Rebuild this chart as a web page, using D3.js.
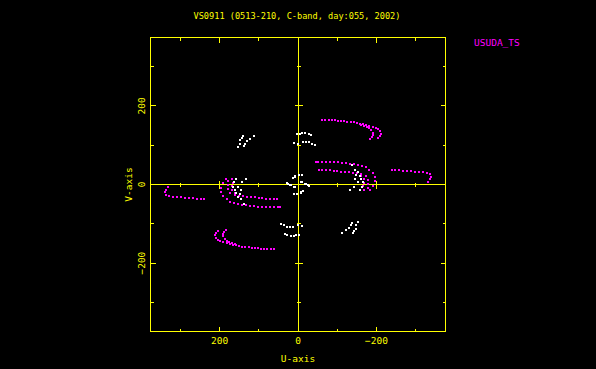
<!DOCTYPE html>
<html lang="en">
<head>
    <meta charset="UTF-8">
    <title>UV coverage VS0911</title>
    <script src="https://d3js.org/d3.v7.min.js"></script>
    <style>
        body { margin: 0; background: #000; }
        text { font-family: "DejaVu Sans Mono", monospace; fill: #ffff00; }
    </style>
</head>
<body>
    <script>
        // Chart texts
        const title = "VS0911 (0513-210, C-band, day:055, 2002)";
        const stationLabel = "USUDA_TS";
        const xLabel = "U-axis";
        const yLabel = "V-axis";

        // Tick values (kilo-wavelength units)
        const majorTicks = [-200, 0, 200];
        const minorTicks = [-300, -100, 100, 300];

        // UV tracks as [u, v]; each point is also plotted at (-u, -v)
        const magentaOuter = [[-62,165],[-70,164],[-78,164],[-86,163],[-94,163],[-102,162],[-110,162],[-118,161],[-126,160],[-134,159],[-142,158],[-150,156],[-158,155],[-166,153],[-174,151],[-182,149],[-190,146],[-198,143],[-204,140],[-209,135],[-212,129],[-210,123],[-205,118]];
        const magentaInner = [[-160,152],[-168,150],[-176,147],[-182,143],[-187,138],[-191,132],[-192,126],[-189,120],[-184,116]];
        const magentaFar = [[331,-7],[337,-13],[340,-20],[336,-26],[328,-30],[318,-31],[308,-32],[298,-33],[287,-34],[277,-35],[267,-35],[257,-36],[247,-36],[239,-36]];
        const magentaUpper = [[178,8],[179,-2],[179,-12],[173,-22],[160,-27],[150,-29],[140,-30],[130,-31],[120,-32],[110,-33],[100,-34],[91,-35],[81,-36],[71,-37],[61,-37],[53,-38]];
        const magentaLower = [[184,14],[191,4],[196,-9],[196,-20],[190,-30],[181,-36],[173,-44],[163,-48],[152,-50],[142,-51],[132,-53],[122,-54],[112,-55],[101,-56],[91,-57],[81,-57],[71,-58],[61,-58],[51,-58],[46,-58]];
        const magentaMiddle = [[168,15],[165,5],[167,-5],[168,-15],[160,-22]];

        const whiteArcA = [[139,123],[144,118],[147,112],[149,104],[152,95]];
        const whiteArcB = [[113,123],[122,117],[130,111],[135,104],[137,99]];
        const whiteTop = [[3,128],[-6,128],[-10,130],[-18,131],[-27,129],[-33,125]];
        const whiteTopLower = [[10,105],[0,104],[-14,108],[-20,107],[-27,107],[-35,104],[-44,101]];
        const whiteCentre = [[7,22],[-3,24],[-11,23],[12,16],[25,1],[17,-2],[7,-7],[-11,7],[-21,1],[-29,-4],[11,-23],[2,-23],[-8,-18]];
        const whiteRight = [[-137,49],[-146,36],[-154,31],[-158,22],[-148,24],[-146,13],[-152,6],[-161,15],[-165,6],[-163,-6],[-157,-15],[-143,-7],[-133,-14]];

        const magentaTracks = [magentaOuter, magentaInner, magentaFar, magentaUpper, magentaLower, magentaMiddle];
        const whiteTracks = [whiteArcA, whiteArcB, whiteTop, whiteTopLower, whiteCentre, whiteRight];

        const yellow = "#ffff00";
        const magenta = "#ff00ff";

        const svg = d3.select("body").append("svg")
            .attr("width", 596)
            .attr("height", 369)
            .style("background", "#000");

        // U runs right-to-left as in the original plot
        const x = d3.scaleLinear().domain([376, -376]).range([150.5, 445.5]);
        const y = d3.scaleLinear().domain([374, -374]).range([37.5, 331.5]);
        const [x0, x1] = x.range();
        const [y0, y1] = y.range();

        const g = svg.append("g").attr("shape-rendering", "crispEdges");

        // snap to pixel centres
        const xp = d => Math.floor(x(d)) + 0.5;
        const yp = d => Math.floor(y(d)) + 0.5;

        // Frame and zero lines
        g.append("rect")
            .attr("x", x0).attr("y", y0)
            .attr("width", x1 - x0).attr("height", y1 - y0)
            .attr("fill", "none").attr("stroke", yellow);
        g.append("line")
            .attr("x1", x0).attr("x2", x1)
            .attr("y1", yp(0)).attr("y2", yp(0))
            .attr("stroke", yellow);
        g.append("line")
            .attr("x1", xp(0)).attr("x2", xp(0))
            .attr("y1", y0).attr("y2", y1)
            .attr("stroke", yellow);

        // Ticks on frame and across the zero lines
        const ticks = majorTicks.map(d => ({ v: d, len: 5 }))
            .concat(minorTicks.map(d => ({ v: d, len: 3 })));
        ticks.forEach(t => {
            const segs = [
                [xp(t.v), y1, xp(t.v), y1 - t.len],
                [xp(t.v), y0, xp(t.v), y0 + t.len],
                [xp(t.v), yp(0) - t.len + 1, xp(t.v), yp(0) + t.len - 1],
                [x0, yp(t.v), x0 + t.len, yp(t.v)],
                [x1, yp(t.v), x1 - t.len, yp(t.v)],
                [xp(0) - t.len + 1, yp(t.v), xp(0) + t.len - 1, yp(t.v)]
            ];
            segs.forEach(s => g.append("line")
                .attr("x1", s[0]).attr("y1", s[1]).attr("x2", s[2]).attr("y2", s[3])
                .attr("stroke", yellow));
        });

        // Data points with their conjugates
        function drawTracks(tracks, colour) {
            const pts = [];
            tracks.forEach(tr => tr.forEach(([u, v]) => { pts.push([u, v]); pts.push([-u, -v]); }));
            g.append("g").selectAll("rect")
                .data(pts)
                .enter()
                .append("rect")
                .attr("x", d => Math.round(x(d[0])) - 1)
                .attr("y", d => Math.round(y(d[1])) - 1)
                .attr("width", 2)
                .attr("height", 2)
                .attr("fill", colour);
        }
        drawTracks(magentaTracks, magenta);
        drawTracks(whiteTracks, "#ffffff");

        // Tick labels
        const fmt = d => d < 0 ? "\u2212" + Math.abs(d) : String(d);
        svg.append("g").selectAll("text")
            .data(majorTicks)
            .enter()
            .append("text")
            .attr("x", d => x(d))
            .attr("y", 344)
            .attr("text-anchor", "middle")
            .style("font-size", "9.5px")
            .text(fmt);
        svg.append("g").selectAll("text")
            .data(majorTicks)
            .enter()
            .append("text")
            .attr("transform", d => `translate(145,${y(d)}) rotate(-90)`)
            .attr("text-anchor", "middle")
            .style("font-size", "9.5px")
            .text(fmt);

        // Axis titles and plot title
        svg.append("text")
            .attr("x", x(0)).attr("y", 362)
            .attr("text-anchor", "middle")
            .style("font-size", "9.5px")
            .text(xLabel);
        svg.append("text")
            .attr("transform", `translate(132,${y(0)}) rotate(-90)`)
            .attr("text-anchor", "middle")
            .style("font-size", "9.5px")
            .text(yLabel);
        svg.append("text")
            .attr("x", 297).attr("y", 19)
            .attr("text-anchor", "middle")
            .style("font-size", "8.6px")
            .text(title);
        svg.append("text")
            .attr("x", 474).attr("y", 46)
            .style("font-size", "9.5px")
            .style("fill", magenta)
            .text(stationLabel);
    </script>
</body>
</html>
